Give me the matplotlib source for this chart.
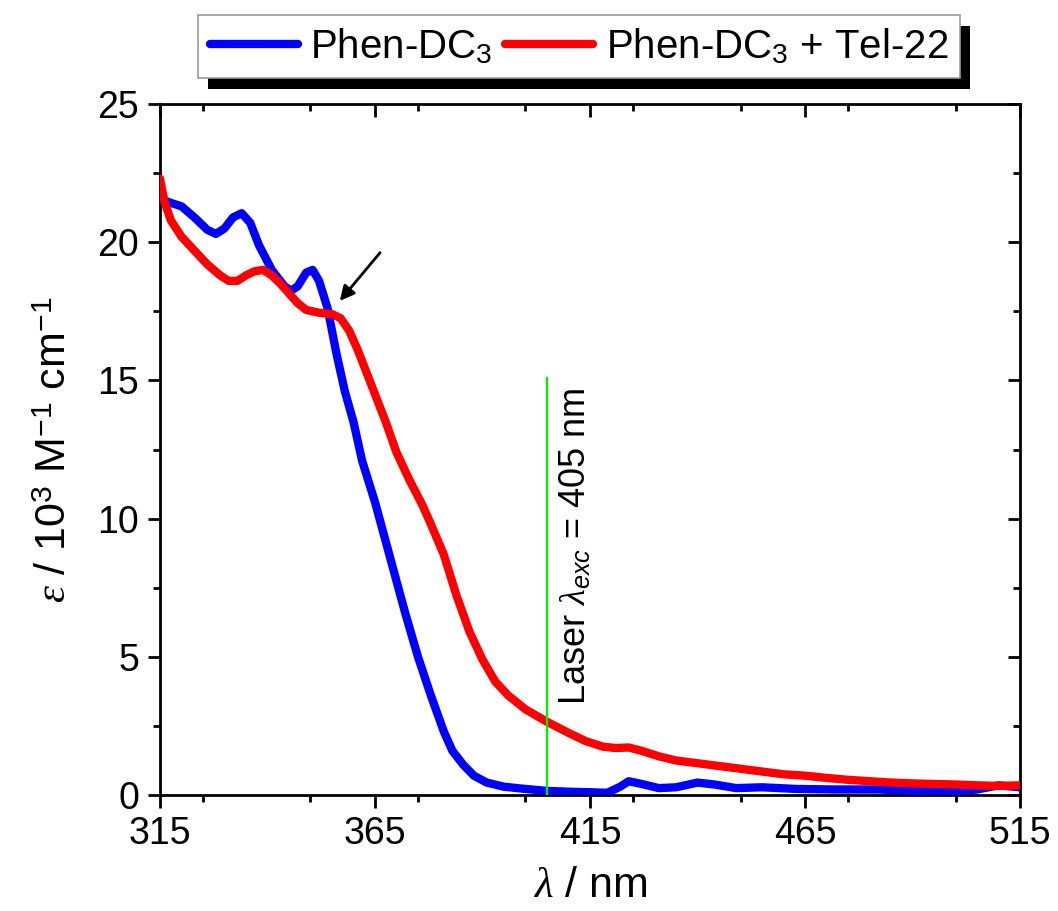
import matplotlib
matplotlib.use('Agg')
import matplotlib.pyplot as plt
from matplotlib.patches import Rectangle
from matplotlib.transforms import IdentityTransform
from matplotlib.ticker import MultipleLocator

plt.rcParams['font.family'] = ['Liberation Sans', 'DejaVu Sans']
plt.rcParams['mathtext.fontset'] = 'custom'
plt.rcParams['mathtext.rm'] = 'Liberation Sans'
plt.rcParams['mathtext.it'] = 'Liberation Serif:italic'
plt.rcParams['mathtext.sf'] = 'Liberation Sans:italic'

# Phen-DC3 alone
wl_blue = [315, 317, 320, 323, 326, 328, 330, 332, 334, 336, 338, 341, 344, 345.5,
           347, 349, 350.5, 352, 354, 356, 358, 360, 362, 365, 368.5, 372, 375, 378,
           381, 383, 385.5, 388, 391, 395, 400, 405, 410, 415, 419, 422, 424, 427,
           431, 435, 440, 444, 449, 455, 463, 472, 482, 490, 500, 505, 510, 515]
eps_blue = [21.6, 21.45, 21.3, 20.9, 20.45, 20.3, 20.5, 20.9, 21.05, 20.7, 19.9, 19.0,
            18.4, 18.25, 18.4, 18.9, 19.0, 18.6, 17.6, 16.0, 14.6, 13.5, 12.1, 10.6,
            8.6, 6.6, 5.0, 3.6, 2.3, 1.6, 1.1, 0.7, 0.45, 0.3, 0.22, 0.15, 0.12, 0.1,
            0.08, 0.3, 0.5, 0.4, 0.25, 0.28, 0.45, 0.38, 0.25, 0.28, 0.22, 0.2, 0.2,
            0.15, 0.12, 0.2, 0.35, 0.28]

# Phen-DC3 + Tel-22
wl_red = [315, 316, 317.5, 320, 323, 326, 329, 331, 333, 335, 337, 339, 341, 343, 345,
          347, 349, 352, 355, 357, 359, 361, 363, 365, 367.5, 370, 373, 376, 378, 381,
          384, 387, 390, 393, 396, 400, 405, 410, 414, 418, 421, 424, 427, 431, 435,
          440, 445, 450, 455, 460, 465, 470, 475, 480, 485, 490, 495, 500, 505, 510, 515]
eps_red = [22.3, 21.5, 20.8, 20.2, 19.7, 19.2, 18.8, 18.6, 18.6, 18.8, 18.95, 19.0, 18.8,
           18.5, 18.15, 17.8, 17.55, 17.45, 17.4, 17.25, 16.8, 16.1, 15.3, 14.5, 13.5,
           12.4, 11.4, 10.5, 9.8, 8.7, 7.2, 5.9, 4.9, 4.1, 3.6, 3.1, 2.65, 2.25, 1.95,
           1.75, 1.7, 1.72, 1.6, 1.4, 1.25, 1.15, 1.05, 0.95, 0.85, 0.75, 0.7, 0.62,
           0.55, 0.5, 0.45, 0.42, 0.4, 0.38, 0.35, 0.33, 0.35]

laser_wl = 405
laser_top = 15.1
xticks = [315, 365, 415, 465, 515]

fig = plt.figure(figsize=(10.58, 9.11), dpi=100)
ax = fig.add_axes([0.1512, 0.1273, 0.8129, 0.7585])

ax.plot(wl_blue, eps_blue, color='#0000ff', lw=6, solid_capstyle='round',
        solid_joinstyle='round', label='Phen-DC$_3$', zorder=3)
ax.plot(wl_red, eps_red, color='#ff0000', lw=6, solid_capstyle='round',
        solid_joinstyle='round', label='Phen-DC$_3$ + Tel-22', zorder=3)
ax.plot([laser_wl, laser_wl], [0, laser_top], color='#00ee00', lw=1.6, zorder=4)

ax.text(411.8, 9.0, r'Laser $\lambda_{\mathsf{exc}}$ = 405 nm', rotation=90,
        ha='center', va='center', fontsize=26)

ax.annotate('', xy=(356.4, 17.8), xytext=(366.6, 19.7),
            arrowprops=dict(arrowstyle='-|>', color='k', lw=2, mutation_scale=22))

ax.set_xlim(315, 515)
ax.set_ylim(0, 25)
ax.set_xticks(xticks)
ax.xaxis.set_minor_locator(MultipleLocator(25))
ax.yaxis.set_major_locator(MultipleLocator(5))
ax.yaxis.set_minor_locator(MultipleLocator(2.5))
ax.tick_params(which='major', direction='out', length=9, width=2, labelsize=27, pad=6)
ax.tick_params(which='minor', direction='out', length=5, width=2)
for s in ax.spines.values():
    s.set_linewidth(2)

# inward ticks on top and right
top = ax.secondary_xaxis('top')
top.set_xticks(xticks)
top.xaxis.set_minor_locator(MultipleLocator(25))
top.tick_params(which='major', direction='in', length=9, width=2, labeltop=False)
top.tick_params(which='minor', direction='in', length=5, width=2)
right = ax.secondary_yaxis('right')
right.yaxis.set_major_locator(MultipleLocator(5))
right.yaxis.set_minor_locator(MultipleLocator(2.5))
right.tick_params(which='major', direction='in', length=9, width=2, labelright=False)
right.tick_params(which='minor', direction='in', length=5, width=2)

ax.set_xlabel(r'$\lambda$ / nm', fontsize=31, labelpad=10)
ax.set_ylabel(r'$\varepsilon$ / 10$^3$ M$^{-1}$ cm$^{-1}$', fontsize=31, labelpad=16)

leg = ax.legend(loc='lower center', bbox_to_anchor=(0.487, 1.037), ncol=2,
                fontsize=29, frameon=True, fancybox=False, handlelength=2.2,
                handletextpad=0.3, columnspacing=0.3, borderaxespad=0,
                borderpad=0.3)
leg.get_frame().set_edgecolor('#999999')
leg.get_frame().set_linewidth(1.2)
leg.get_frame().set_alpha(1)

fig.canvas.draw()
bb = leg.get_window_extent()
shadow = Rectangle((bb.x0 + 10, bb.y0 - 11), bb.width, bb.height, facecolor='k',
                   edgecolor='none', transform=IdentityTransform(), clip_on=False,
                   zorder=4)
ax.add_artist(shadow)
leg.set_zorder(6)

fig.savefig('out.png', dpi=100)
